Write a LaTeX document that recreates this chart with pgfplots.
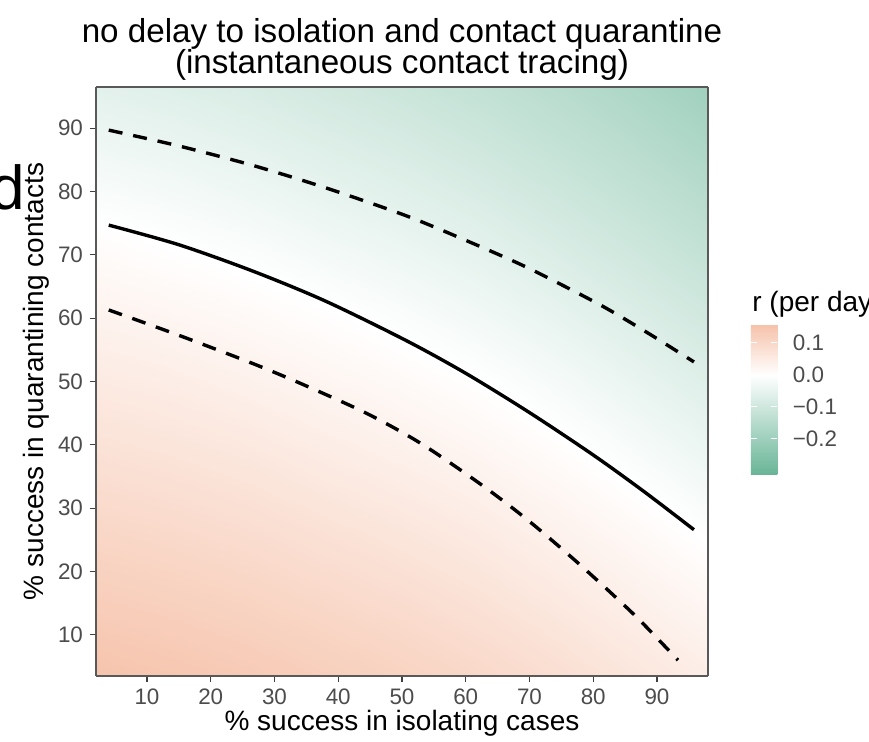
\documentclass[border=0pt]{standalone}
\usepackage{pgfplots}
\usepackage{pgfplotstable}
\pgfplotsset{compat=1.18}
\usetikzlibrary{calc}
\usepackage{fontspec}
\setmainfont{Liberation Sans}

% r (per day): x = isolation, y = quarantine
\pgfplotstableread{
x y r
2 3.5 0.151
2 15 0.126
2 27 0.101
2 38 0.078
2 50 0.053
2 62 0.028
2 73 0.005
2 85 -0.026
2 96.5 -0.058
14 3.5 0.143
14 15 0.119
14 27 0.094
14 38 0.071
14 50 0.046
14 62 0.020
14 73 -0.004
14 85 -0.036
14 96.5 -0.067
26 3.5 0.134
26 15 0.110
26 27 0.085
26 38 0.062
26 50 0.036
26 62 0.011
26 73 -0.015
26 85 -0.048
26 96.5 -0.079
38 3.5 0.123
38 15 0.099
38 27 0.074
38 38 0.050
38 50 0.025
38 62 0.000
38 73 -0.030
38 85 -0.062
38 96.5 -0.093
50 3.5 0.112
50 15 0.088
50 27 0.063
50 38 0.039
50 50 0.014
50 62 -0.014
50 73 -0.044
50 85 -0.076
50 96.5 -0.107
62 3.5 0.099
62 15 0.075
62 27 0.050
62 38 0.026
62 50 0.001
62 62 -0.031
62 73 -0.060
62 85 -0.093
62 96.5 -0.124
74 3.5 0.083
74 15 0.058
74 27 0.033
74 38 0.010
74 50 -0.019
74 62 -0.052
74 73 -0.082
74 85 -0.114
74 96.5 -0.145
86 3.5 0.064
86 15 0.040
86 27 0.015
86 38 -0.011
86 50 -0.043
86 62 -0.075
86 73 -0.105
86 85 -0.137
86 96.5 -0.168
98 3.5 0.045
98 15 0.021
98 27 -0.006
98 38 -0.036
98 50 -0.068
98 62 -0.100
98 73 -0.130
98 85 -0.163
98 96.5 -0.194
}\rgrid

\pgfplotsset{colormap={rgrn}{rgb255(0pt)=(103,180,150) rgb255(31.25pt)=(255,255,255) rgb255(46.85pt)=(246,194,170)}}

\newcommand{\tickfont}{\fontsize{11.2}{13}\selectfont}
\newcommand{\labfont}{\fontsize{14}{16}\selectfont}

\begin{document}
\begin{tikzpicture}
\begin{axis}[
  at={(48pt,33pt)}, anchor=south west,
  scale only axis, width=306pt, height=294.5pt,
  view={0}{90},
  xmin=2, xmax=98, ymin=3.5, ymax=96.5,
  xtick={10,20,...,90}, ytick={10,20,...,90},
  tick pos=left, tick align=outside, major tick length=3pt,
  tick style={black!75, line width=0.6pt},
  axis line style={black!65, line width=0.9pt},
  ticklabel style={font=\tickfont, text=black!70},
  /pgf/number format/assume math mode=true,
  colormap name=rgrn,
  point meta min=-0.3125, point meta max=0.156,
  axis on top,
  colorbar,
  colorbar style={
    at={($(parent axis.south east)+(12.9pt,100.5pt)$)}, anchor=south west,
    scale only axis, width=13.3pt, height=75pt,
    ytick={-0.2,-0.1,0,0.1},
    yticklabels={−0.2,−0.1,0.0,0.1},
    yticklabel pos=right, ytick pos=both,
    tick align=inside, major tick length=3pt,
    tick style={white, line width=0.5pt},
    axis line style={draw=none},
    yticklabel style={font=\tickfont, text=black!70, anchor=west,
      text width=24pt, align=left, inner xsep=0pt, xshift=7.5pt},
  },
]
\addplot3[surf, shader=interp, mesh/ordering=y varies, mesh/rows=9, mesh/cols=9]
  table[x=x, y=y, z=r] {\rgrid};
% r = 0 and its bounds
\addplot3[black, line width=1.7pt, smooth] coordinates {
  (4.0,74.7,0) (15,71.6,0) (26.7,67.4,0) (38,62.7,0) (50.6,56.5,0) (60,51.3,0)
  (70,45.1,0) (80,38.4,0) (88,32.6,0) (95.8,26.6,0)};
\addplot3[black, line width=1.7pt, smooth, dash pattern=on 7pt off 5.5pt] coordinates {
  (4.0,89.7,0) (15,87.2,0) (26.7,84.1,0) (38,80.6,0) (50.6,76.2,0) (60,72.3,0)
  (68.6,68.5,0) (75,65.3,0) (82,61.6,0) (89,57.4,0) (95.8,53.1,0)};
\addplot3[black, line width=1.7pt, smooth, dash pattern=on 7pt off 5.5pt] coordinates {
  (4.0,61.3,0) (15,57.3,0) (26.7,52.8,0) (35,49.3,0) (44.6,44.9,0) (53,40.2,0)
  (62.6,33.6,0) (70,27.9,0) (78,21.0,0) (86.5,13.1,0) (93.3,6.0,0)};
\end{axis}
\node[anchor=base, font=\fontsize{16.6}{18}\selectfont] at (201pt,349.5pt) {no delay to isolation and contact quarantine};
\node[anchor=base, font=\fontsize{16.6}{18}\selectfont] at (201pt,334pt) {(instantaneous contact tracing)};
\node[anchor=base, font=\labfont] at (201pt,5.5pt) {\% success in isolating cases};
\node[anchor=base, rotate=90, font=\labfont] at (21.5pt,180.25pt) {\% success in quarantining contacts};
\node[anchor=base west, inner sep=0pt, font=\labfont] at (376pt,215pt) {r (per day)};
\node[anchor=base west, inner sep=0pt, font=\fontsize{31}{33}\selectfont] at (-5.2pt,266pt) {d};
\pgfresetboundingbox
\useasboundingbox (0,0) rectangle (434.5pt,371pt);
\end{tikzpicture}
\end{document}
